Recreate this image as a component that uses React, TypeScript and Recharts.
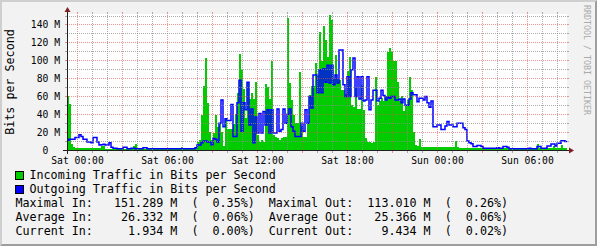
import React from 'react'
import { ComposedChart, Area, Line, XAxis, YAxis, ReferenceLine } from 'recharts'

// time axis in hours relative to Sat 00:00, one sample every 8 minutes (2px)
const START_HOUR = -0.7
const SAMPLE_HOURS = 2 / 15
const END_HOUR = START_HOUR + 250 * SAMPLE_HOURS
const Y_TOP = 152.3 // M bits/s at the top edge of the canvas

// incoming traffic, M bits/s
const incoming = [
  61, 52, 7, 3, 2.6, 2.6, 2, 2, 2, 2,
  2, 2, 2, 2, 2, 2, 2, 4, 4, 1.3,
  1.3, 1.3, 1.3, 1.3, 1.3, 1.3, 1.3, 1.3, 1.3, 1.3,
  1.3, 1.3, 1.3, 4, 7, 1.5, 1.3, 1.3, 1.3, 1.3,
  1.3, 1.3, 2.5, 1.3, 1.3, 1.3, 1.3, 2.5, 1.3, 1.3,
  1.3, 1.3, 1.3, 1.3, 1.3, 1.3, 1.3, 3.5, 1.3, 1.3,
  1.3, 1.3, 1.3, 2, 3, 9, 11, 39, 72, 103,
  53, 20, 11, 19, 39, 26, 30, 20, 5, 35,
  24, 24, 23, 29, 40, 64, 108, 90, 68, 36,
  75, 57, 64, 57, 76, 17, 9, 11, 9, 74,
  71, 57, 100, 17, 15, 13, 11, 13, 15, 15,
  148, 75, 56, 39, 30, 30, 87, 27, 15, 15,
  30, 62, 72, 72, 97, 84, 132, 100, 139, 123,
  104, 151, 146, 80, 106, 80, 78, 67, 67, 63,
  88, 104, 50, 48, 69, 46, 46, 73, 45, 13,
  9, 9, 8, 9, 82, 50, 55, 58, 55, 60,
  110, 114, 110, 100, 100, 76, 55, 60, 44, 50,
  56, 82, 67, 20, 6, 4, 12, 3.5, 3.5, 3.5,
  3.5, 3, 3, 3, 3, 3, 3, 3, 3, 3,
  3, 3, 3, 3, 10, 3, 2, 2, 2, 2,
  2, 2, 2, 2, 2, 2, 1.7, 1.7, 1.7, 1.7,
  1.7, 1.7, 1.7, 1.7, 1.7, 1.7, 1.7, 1.7, 1.7, 1.7,
  1.7, 1.7, 1.7, 1.7, 1.7, 1.7, 1.7, 1.7, 1.7, 1.7,
  1.7, 1.7, 1.7, 1.7, 1.7, 7, 2, 2, 2, 2,
  2, 2, 2, 5, 2, 2, 2, 6, 2, 1.9,
]

// outgoing traffic, M bits/s
const outgoing = [
  11, 12, 12, 12, 14, 14, 17, 15, 12, 12,
  9, 9, 8, 14, 14, 9, 5.6, 6, 6.5, 5.6,
  5.6, 8, 3, 2, 2, 1.5, 1.5, 1.5, 3, 3,
  1.5, 1.5, 2, 2, 1.5, 1.5, 1.5, 1.5, 2.6, 2.6,
  1.3, 1.3, 1.3, 1.3, 1.3, 1.3, 1.3, 1.3, 1.3, 1.3,
  1.3, 1.3, 1.3, 1.3, 1.3, 1.3, 1.3, 1.3, 1.3, 1.3,
  1.3, 1.3, 1.3, 1.3, 2.6, 5.6, 5.6, 8, 10, 10,
  9, 9, 6, 13, 12, 9, 30, 56, 26, 35,
  33, 33, 51, 15, 15, 53, 78, 21, 53, 45,
  76, 28, 46, 8, 37, 19, 41, 19, 43, 28,
  45, 19, 45, 19, 19, 46, 21, 23, 46, 30,
  40, 46, 26, 21, 15, 15, 15, 30, 21, 45,
  30, 60, 47, 84, 84, 64, 90, 64, 91, 76,
  95, 75, 95, 73, 84, 75, 112, 112, 73, 60,
  82, 60, 90, 103, 60, 82, 57, 82, 55, 56,
  82, 45, 56, 67, 67, 55, 58, 67, 61, 56,
  59, 58, 60, 60, 56, 56, 57, 53, 57, 50,
  50, 57, 64, 62, 62, 54, 58, 58, 56, 60,
  53, 48, 55, 26, 26, 28, 28, 23, 23, 27,
  32, 28, 28, 26, 26, 30, 30, 30, 25, 23,
  10, 8, 7, 4, 4, 5, 5, 4, 2, 2,
  2, 2, 2, 2, 2, 2.6, 2, 2, 4, 4,
  3, 1.5, 1.5, 1.5, 1.5, 1.5, 1.5, 1.5, 1.5, 1.5,
  1.5, 2, 1.5, 1.5, 1.5, 4, 4, 2, 2, 2,
  4.5, 4.5, 6.7, 6.7, 4.5, 7.5, 7.5, 10.4, 10.4, 9.4,
]

const xTickHours = [0, 6, 12, 18, 24, 30]
const xTickLabels = ['Sat 00:00', 'Sat 06:00', 'Sat 12:00', 'Sat 18:00', 'Sun 00:00', 'Sun 06:00']
const hourGrid = [0, 1, 2, 3, 4, 5, 6, 7, 8, 9, 10, 11, 12, 13, 14, 15, 16, 17, 18, 19, 20, 21, 22, 23, 24, 25, 26, 27, 28, 29, 30, 31, 32]

const yTickValues = [0, 20, 40, 60, 80, 100, 120, 140]
const yTickLabels = ['0  ', '20 M', '40 M', '60 M', '80 M', '100 M', '120 M', '140 M']
const levelGrid = [0, 10, 20, 30, 40, 50, 60, 70, 80, 90, 100, 110, 120, 130, 140, 150]

const legendItems = [
  { label: 'Incoming Traffic in Bits per Second', color: '#00CC00' },
  { label: 'Outgoing Traffic in Bits per Second', color: '#0000FF' },
]
const statLines = [
  'Maximal In:   151.289 M  (  0.35%)  Maximal Out:  113.010 M  (  0.26%)',
  'Average In:    26.332 M  (  0.06%)  Average Out:   25.366 M  (  0.06%)',
  'Current In:     1.934 M  (  0.00%)  Current Out:    9.434 M  (  0.02%)',
]

const W = 597
const H = 246
const PLOT_LEFT = 67
const PLOT_RIGHT = 567
const PLOT_TOP = 14
const PLOT_BOTTOM = 150

const MONO = "'DejaVu Sans Mono', monospace"
const GRID = 'rgba(143,143,143,0.75)'
const MGRID = 'rgba(222,79,79,0.6)'
const AXIS = '#1F1F1F'
const ARROW = '#801F1F'

const rows = incoming.map((v, i) => ({ t: START_HOUR + i * SAMPLE_HOURS, inb: v, outb: outgoing[i] }))
rows.push({ t: END_HOUR, inb: incoming[incoming.length - 1], outb: outgoing[outgoing.length - 1] })

function HourTick(props: any) {
  const { x, payload } = props
  const h = payload.value
  const col = h % 3 === 0 ? MGRID : GRID
  const idx = xTickHours.indexOf(h)
  return (
    <g shapeRendering="crispEdges">
      <line x1={x} x2={x} y1={PLOT_BOTTOM} y2={PLOT_BOTTOM + 3} stroke={col} />
      <line x1={x} x2={x} y1={PLOT_TOP - 2} y2={PLOT_TOP} stroke={col} />
      {idx >= 0 && (
        <text x={x} y={163.5} textAnchor="middle" fontSize={9.7} fontFamily={MONO} fill="#000">
          {xTickLabels[idx]}
        </text>
      )}
    </g>
  )
}

function LevelTick(props: any) {
  const { y, payload } = props
  const v = payload.value
  const col = v % 20 === 0 ? MGRID : GRID
  const idx = yTickValues.indexOf(v)
  return (
    <g>
      {v > 0 && (
        <g shapeRendering="crispEdges">
          <line x1={PLOT_LEFT - 2} x2={PLOT_LEFT} y1={y} y2={y} stroke={col} />
          <line x1={PLOT_RIGHT} x2={PLOT_RIGHT + 2} y1={y} y2={y} stroke={col} />
        </g>
      )}
      {idx >= 0 && (
        <text x={60} y={y + 3.5} textAnchor="end" fontSize={9.7} fontFamily={MONO} fill="#000"
          xmlSpace="preserve" style={{ whiteSpace: 'pre' }}>
          {yTickLabels[idx]}
        </text>
      )}
    </g>
  )
}

export default function App() {
  return (
    <div style={{ position: 'absolute', left: 0, top: 0, width: W, height: H, background: '#F2F2F2', overflow: 'hidden' }}>
      <style>{`
        .recharts-reference-line-line, .recharts-area-area { shape-rendering: crispEdges; }
      `}</style>
      {/* white canvas behind the plot */}
      <div style={{ position: 'absolute', left: PLOT_LEFT, top: PLOT_TOP, width: PLOT_RIGHT - PLOT_LEFT, height: PLOT_BOTTOM - PLOT_TOP, background: '#FFFFFF' }} />

      <div style={{ position: 'absolute', left: 0, top: 0 }}>
        <ComposedChart width={W} height={H} data={rows}
          margin={{ top: PLOT_TOP, right: W - PLOT_RIGHT, bottom: H - PLOT_BOTTOM - 20, left: 0 }}>
          <XAxis dataKey="t" type="number" domain={[START_HOUR, END_HOUR]} allowDataOverflow
            ticks={hourGrid} interval={0} axisLine={false} tickLine={false} tick={<HourTick />} height={20} />
          <YAxis type="number" domain={[0, Y_TOP]} allowDataOverflow ticks={levelGrid} interval={0}
            axisLine={false} tickLine={false} tick={<LevelTick />} width={PLOT_LEFT} />

          <Area dataKey="inb" type="stepAfter" fill="#00CC00" fillOpacity={1} stroke="none"
            dot={false} activeDot={false} isAnimationActive={false} />
          <Line dataKey="outb" type="stepAfter" stroke="#0000FF" strokeWidth={1.5}
            dot={false} activeDot={false} isAnimationActive={false} />

          {hourGrid.map(h => (
            <ReferenceLine key={'h' + h} x={h} stroke={h % 3 === 0 ? MGRID : GRID} strokeDasharray="1 1" />
          ))}
          {levelGrid.filter(v => v > 0).map(v => (
            <ReferenceLine key={'v' + v} y={v} stroke={v % 20 === 0 ? MGRID : GRID} strokeDasharray="1 1" />
          ))}
        </ComposedChart>
      </div>

      <svg width={W} height={H} style={{ position: 'absolute', left: 0, top: 0, pointerEvents: 'none' }}>
        {/* 3d frame */}
        <polygon points={`0,${H} 2,${H - 2} 2,2 ${W - 2},2 ${W},0 0,0`} fill="#CFCFCF" />
        <polygon points={`2,${H - 2} ${W - 2},${H - 2} ${W - 2},2 ${W},0 ${W},${H} 0,${H}`} fill="#9E9E9E" />

        {/* axes with arrows */}
        <g shapeRendering="crispEdges">
          <line x1={PLOT_LEFT - 4} x2={PLOT_RIGHT + 4} y1={PLOT_BOTTOM + 0.5} y2={PLOT_BOTTOM + 0.5} stroke={AXIS} />
          <line x1={PLOT_LEFT + 0.5} x2={PLOT_LEFT + 0.5} y1={PLOT_BOTTOM + 4} y2={PLOT_TOP - 4} stroke={AXIS} />
        </g>
        <polygon points={`${PLOT_RIGHT + 2},${PLOT_BOTTOM - 2.5} ${PLOT_RIGHT + 2},${PLOT_BOTTOM + 3.5} ${PLOT_RIGHT + 7},${PLOT_BOTTOM + 0.5}`} fill={ARROW} />
        <polygon points={`${PLOT_LEFT - 2.5},${PLOT_TOP - 2} ${PLOT_LEFT + 3.5},${PLOT_TOP - 2} ${PLOT_LEFT + 0.5},${PLOT_TOP - 7}`} fill={ARROW} />

        <text transform="translate(14,82) rotate(-90)" textAnchor="middle" fontSize={11.7} fontFamily={MONO} fill="#000">
          Bits per Second
        </text>
        <text transform="translate(583.5,5) rotate(90)" fontSize={8.3} fontFamily={MONO} fill="#AAAAAA">
          RRDTOOL / TOBI OETIKER
        </text>

        {legendItems.map((item, i) => (
          <g key={item.label}>
            <rect x={15.5} y={171.5 + i * 14} width={8} height={8} fill={item.color} stroke="#000" shapeRendering="crispEdges" />
            <text x={29.5} y={178.8 + i * 14} fontSize={11.7} fontFamily={MONO} fill="#000">{item.label}</text>
          </g>
        ))}
        {statLines.map((s, i) => (
          <text key={i} x={15.5} y={206.8 + i * 14} fontSize={11.7} fontFamily={MONO} fill="#000"
            xmlSpace="preserve" style={{ whiteSpace: 'pre' }}>{s}</text>
        ))}
      </svg>
    </div>
  )
}
